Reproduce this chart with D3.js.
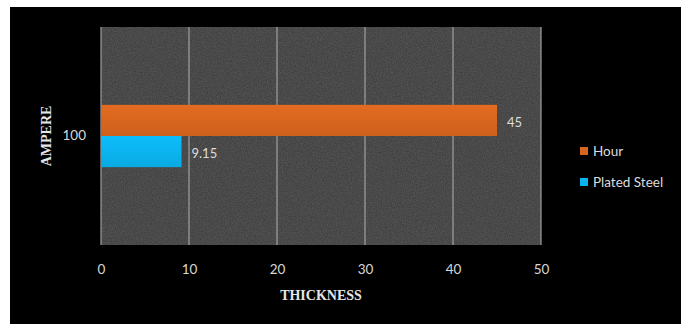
<!DOCTYPE html>
<html>
<head>
<meta charset="utf-8">
<script src="https://cdn.jsdelivr.net/npm/d3@7"></script>
<style>
  html, body { margin: 0; padding: 0; background: #ffffff; }
  svg { display: block; }
</style>
</head>
<body>
<script>
// Chart data
const categories = ["100"];
const seriesNames = ["Hour", "Plated Steel"];
const hourValues = [45];
const platedSteelValues = [9.15];
const xTicks = [0, 10, 20, 30, 40, 50];
const seriesColors = ["#d8651f", "#0bb3ee"];

const W = 681, H = 324;
const plot = { left: 101, top: 27, right: 541, bottom: 245 };

const svg = d3.select("body").append("svg")
  .attr("width", W).attr("height", H);

const defs = svg.append("defs");
// grainy fill for the plot area
const f = defs.append("filter").attr("id", "grain")
  .attr("x", 0).attr("y", 0).attr("width", "100%").attr("height", "100%");
f.append("feTurbulence").attr("type", "fractalNoise")
  .attr("baseFrequency", 0.8).attr("numOctaves", 2).attr("seed", 3).attr("result", "n");
f.append("feColorMatrix").attr("in", "n").attr("type", "matrix")
  .attr("values", "0 0 0 0 0.33  0 0 0 0 0.33  0 0 0 0 0.33  0 0 0 0.35 0")
  .attr("result", "c");
f.append("feComposite").attr("in", "c").attr("in2", "SourceGraphic").attr("operator", "in");

// subtle shading on bars
seriesColors.forEach((c, i) => {
  const g = defs.append("linearGradient").attr("id", "bar" + i)
    .attr("x1", 0).attr("y1", 0).attr("x2", 0).attr("y2", 1);
  g.append("stop").attr("offset", "0%").attr("stop-color", d3.color(c).brighter(0.15));
  g.append("stop").attr("offset", "100%").attr("stop-color", d3.color(c).darker(0.15));
});

// black backdrop
svg.append("rect").attr("x", 10).attr("y", 7).attr("width", W - 10).attr("height", H - 7)
  .attr("fill", "#000");

// plot background
svg.append("rect")
  .attr("x", plot.left).attr("y", plot.top)
  .attr("width", plot.right - plot.left).attr("height", plot.bottom - plot.top)
  .attr("fill", "#383838");
svg.append("rect")
  .attr("x", plot.left).attr("y", plot.top)
  .attr("width", plot.right - plot.left).attr("height", plot.bottom - plot.top)
  .attr("fill", "#383838").attr("filter", "url(#grain)");

const x = d3.scaleLinear().domain([0, 50]).range([plot.left, plot.right]);
const y = d3.scaleBand().domain(categories).range([plot.top, plot.bottom]);
const inner = d3.scaleBand().domain(seriesNames)
  .range([0, y.bandwidth()]).paddingOuter(2.5).paddingInner(0);

// vertical gridlines
svg.append("g").selectAll("line").data(xTicks).join("line")
  .attr("x1", d => x(d)).attr("x2", d => x(d))
  .attr("y1", plot.top).attr("y2", plot.bottom)
  .attr("stroke", "#a0a0a0").attr("stroke-width", 1.2);

// x axis labels
const xAxis = d3.axisBottom(x).tickValues(xTicks).tickSize(0).tickPadding(0);
const gx = svg.append("g").attr("transform", `translate(0,${plot.bottom + 19})`).call(xAxis);
gx.select(".domain").remove();
gx.selectAll("text").attr("fill", "#d8d8d8").attr("font-size", 13.5)
  .attr("font-family", "Lato, 'Open Sans', sans-serif").attr("dy", "0.32em").attr("y", 6);

// y axis labels
const yAxis = d3.axisLeft(y).tickSize(0).tickPadding(0);
const gy = svg.append("g").attr("transform", `translate(${plot.left - 15},0)`).call(yAxis);
gy.select(".domain").remove();
gy.selectAll("text").attr("fill", "#d8d8d8").attr("font-size", 13.5)
  .attr("font-family", "Lato, 'Open Sans', sans-serif");

// bars
const rows = categories.map((c, i) => ({ cat: c, vals: [hourValues[i], platedSteelValues[i]] }));
rows.forEach(r => {
  r.vals.forEach((v, k) => {
    const by = y(r.cat) + inner(seriesNames[k]);
    svg.append("rect")
      .attr("x", x(0)).attr("y", by)
      .attr("width", x(v) - x(0)).attr("height", inner.bandwidth())
      .attr("fill", `url(#bar${k})`);
    svg.append("text")
      .attr("x", x(v) + 10).attr("y", by + inner.bandwidth() / 2 + 2)
      .attr("dy", "0.32em")
      .attr("fill", "#dcdcdc").attr("font-size", 13)
      .attr("font-family", "Lato, 'Open Sans', sans-serif")
      .text(v);
  });
});

// axis titles
svg.append("text")
  .attr("x", (plot.left + plot.right) / 2).attr("y", 300)
  .attr("text-anchor", "middle").attr("fill", "#e6e6e6")
  .attr("font-size", 14).attr("font-weight", "bold")
  .attr("font-family", "'Liberation Serif', 'DejaVu Serif', serif")
  .text("THICKNESS");
svg.append("text")
  .attr("transform", `translate(51,${(plot.top + plot.bottom) / 2}) rotate(-90)`)
  .attr("text-anchor", "middle").attr("fill", "#e6e6e6")
  .attr("font-size", 14).attr("font-weight", "bold")
  .attr("font-family", "'Liberation Serif', 'DejaVu Serif', serif")
  .text("AMPERE");

// legend
const legend = svg.append("g").attr("transform", "translate(580,147)");
seriesNames.forEach((name, k) => {
  const g = legend.append("g").attr("transform", `translate(0,${k * 31})`);
  g.append("rect").attr("width", 8).attr("height", 8).attr("fill", seriesColors[k]);
  g.append("text").attr("x", 13).attr("y", 4).attr("dy", "0.35em")
    .attr("fill", "#dcdcdc").attr("font-size", 13.5)
    .attr("font-family", "Lato, 'Open Sans', sans-serif")
    .text(name);
});
</script>
</body>
</html>
